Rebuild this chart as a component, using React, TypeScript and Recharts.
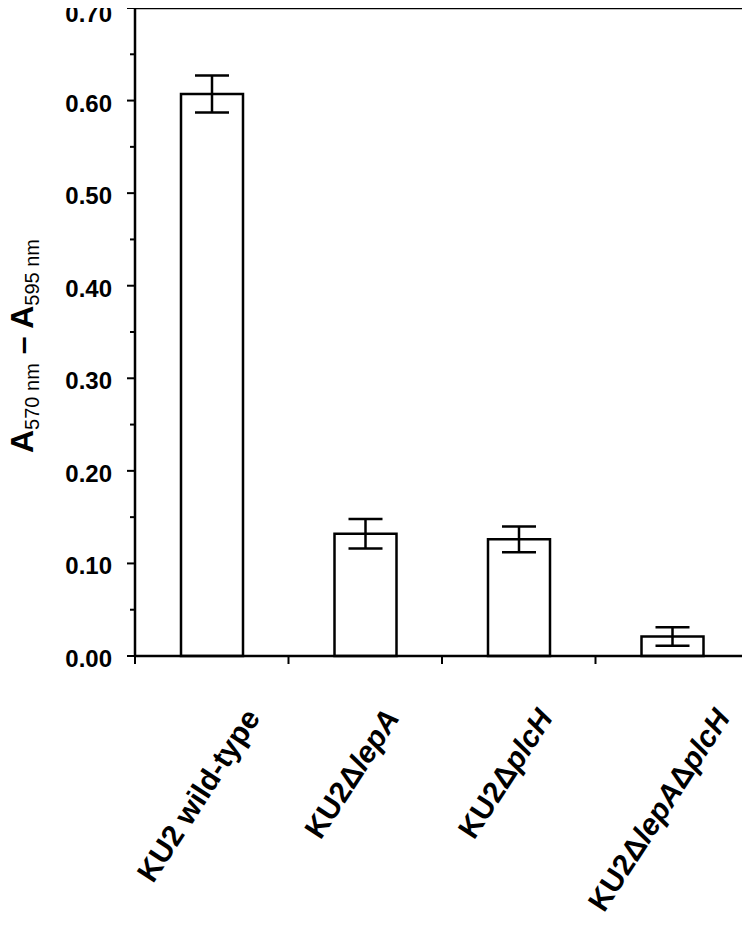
import React from "react";
import { BarChart, Bar, XAxis, YAxis, ErrorBar, ReferenceLine } from "recharts";

const strains = ["KU2 wild-type", "KU2ΔlepA", "KU2ΔplcH", "KU2ΔlepAΔplcH"];
const absorbance = [0.607, 0.132, 0.126, 0.021];
const sem = [0.02, 0.016, 0.014, 0.01];
const yTicks = [0, 0.05, 0.1, 0.15, 0.2, 0.25, 0.3, 0.35, 0.4, 0.45, 0.5, 0.55, 0.6, 0.65, 0.7];

const data = strains.map((name, i) => ({ name, value: absorbance[i], err: sem[i] }));

const FONT = "'Liberation Sans', Arial, Helvetica, sans-serif";
const AXIS_X = 135;
const PLOT_RIGHT = 749;
const BAND = (PLOT_RIGHT - AXIS_X) / strains.length;
const LABEL_SIZE = 30;
const ANGLE = 57;

function measure(parts: { t: string; it: boolean }[]) {
  const ctx = document.createElement("canvas").getContext("2d");
  if (!ctx) return parts.reduce((s, p) => s + p.t.length * 17, 0);
  let w = 0;
  for (const p of parts) {
    ctx.font = `${p.it ? "italic " : ""}bold ${LABEL_SIZE}px 'Liberation Sans'`;
    w += ctx.measureText(p.t).width;
  }
  return w;
}

function splitName(name: string) {
  return name
    .split(/(lepA|plcH)/)
    .filter((s) => s.length)
    .map((t) => ({ t, it: t === "lepA" || t === "plcH" }));
}

const YTick = (props: any) => {
  const { y, payload } = props;
  const v = payload.value;
  const major = Math.round(v * 100) % 10 === 0;
  // keep the top label inside the page
  const base = Math.max(y + 11, 22);
  return (
    <g>
      <line x1={AXIS_X - (major ? 8 : 5)} x2={AXIS_X} y1={y} y2={y} stroke="#000" strokeWidth={2} />
      {major && (
        <text x={112} y={base} textAnchor="end" fontFamily={FONT} fontWeight="bold" fontSize={24} fill="#000">
          {v.toFixed(2)}
        </text>
      )}
    </g>
  );
};

const XTick = (props: any) => {
  const { x, y, payload, index } = props;
  const parts = splitName(payload.value);
  const len = measure(parts);
  const rad = (ANGLE * Math.PI) / 180;
  const h = LABEL_SIZE * 0.72;
  const cx = x - 14;
  const cy = 706 + (len / 2) * Math.sin(rad) + (h / 2) * Math.cos(rad);
  const left = x - BAND / 2;
  return (
    <g>
      <line x1={left} x2={left} y1={y - 8} y2={y} stroke="#000" strokeWidth={2} />
      {index === strains.length - 1 && (
        <line x1={x + BAND / 2} x2={x + BAND / 2} y1={y - 8} y2={y} stroke="#000" strokeWidth={2} />
      )}
      <text
        transform={`translate(${cx},${cy}) rotate(${-ANGLE})`}
        textAnchor="middle"
        dominantBaseline="central"
        fontFamily={FONT}
        fontWeight="bold"
        fontSize={LABEL_SIZE}
        fill="#000"
      >
        {parts.map((p, i) => (
          <tspan key={i} fontStyle={p.it ? "italic" : "normal"}>
            {p.t}
          </tspan>
        ))}
      </text>
    </g>
  );
};

const YLabel = () => (
  <text transform="translate(33,346) rotate(-90)" textAnchor="middle" fontFamily={FONT} fill="#000">
    <tspan fontSize={32} fontWeight="bold">A</tspan>
    <tspan fontSize={20} dy={6}>570 nm</tspan>
    <tspan fontSize={32} fontWeight="bold" dy={-6}> – A</tspan>
    <tspan fontSize={20} dy={6}>595 nm</tspan>
  </text>
);

export default function App() {
  return (
    <div style={{ marginLeft: -8, marginTop: -8, width: 750, height: 927, background: "#fff" }}>
      <BarChart width={750} height={927} data={data} margin={{ top: 8, right: 0, left: 0, bottom: 0 }}>
        <XAxis
          dataKey="name"
          height={271}
          interval={0}
          tickLine={false}
          tick={<XTick />}
          axisLine={{ stroke: "#000", strokeWidth: 2.5 }}
        />
        <YAxis
          yAxisId="l"
          width={AXIS_X}
          domain={[0, 0.7]}
          ticks={yTicks}
          interval={0}
          tickLine={false}
          tick={<YTick />}
          axisLine={{ stroke: "#000", strokeWidth: 2.5 }}
          label={{ content: YLabel }}
        />
        <YAxis
          yAxisId="r"
          orientation="right"
          width={1}
          domain={[0, 0.7]}
          tick={false}
          tickLine={false}
          axisLine={{ stroke: "#000", strokeWidth: 2.5 }}
        />
        <ReferenceLine yAxisId="l" y={0.7} stroke="#000" strokeWidth={2.5} />
        <Bar yAxisId="l" dataKey="value" barSize={62} fill="#fff" stroke="#000" strokeWidth={2.5} isAnimationActive={false}>
          <ErrorBar dataKey="err" width={17} stroke="#000" strokeWidth={2.5} direction="y" />
        </Bar>
      </BarChart>
    </div>
  );
}
